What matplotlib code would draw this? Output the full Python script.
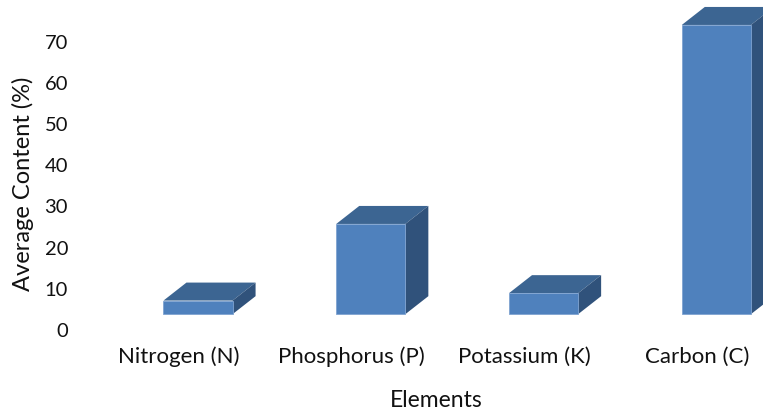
import matplotlib.pyplot as plt
import numpy as np

plt.rcParams['font.family'] = ['Lato', 'DejaVu Sans']

elements = ['Nitrogen (N)', 'Phosphorus (P)', 'Potassium (K)', 'Carbon (C)']
content = [6.9, 25.5, 8.7, 73.8]
yticks = [0, 10, 20, 30, 40, 50, 60, 70]

W, H = 763, 410
fig = plt.figure(figsize=(W / 100, H / 100), dpi=100)
# axes box in pixels (y measured from the bottom)
left_px, right_px, bottom_px, top_px = 75, 763, 80, 410
ax = fig.add_axes([left_px / W, bottom_px / H, (right_px - left_px) / W, (top_px - bottom_px) / H])
xlim = (-0.602, 3.380)
ylim = (0, 80.1)
ax.set_xlim(*xlim)
ax.set_ylim(*ylim)

front = '#4F81BD'
top_c = '#3C6592'
side_c = '#30527B'

# 3d look: depth offsets in pixels -> data units
depth_x_px, depth_y_px = 23, 18
ddx = depth_x_px * (xlim[1] - xlim[0]) / (right_px - left_px)
ddy = depth_y_px * (ylim[1] - ylim[0]) / (top_px - bottom_px)
floor = 3.6
w = 0.4
shift = 0.11  # bars sit a little right of their labels

x = np.arange(len(elements))
xb = x + shift
ax.bar(xb, np.array(content) - floor, bottom=floor, width=w, color=front,
       edgecolor='#7FA3D1', linewidth=0.6, zorder=3)
for xi, v in zip(xb, content):
    l, r = xi - w / 2, xi + w / 2
    ax.fill([l, r, r + ddx, l + ddx], [v, v, v + ddy, v + ddy], color=top_c, zorder=2, lw=0)
    ax.fill([r, r + ddx, r + ddx, r], [floor, floor + ddy, v + ddy, v], color=side_c, zorder=2, lw=0)

for s in ax.spines.values():
    s.set_visible(False)
ax.set_xticks(x)
ax.set_xticklabels(elements, fontsize=16, color='#111111')
ax.set_yticks(yticks)
ax.set_yticklabels([str(t) for t in yticks], fontsize=14.5, color='#111111')
ax.tick_params(length=0)
ax.tick_params(axis='x', pad=12)
ax.tick_params(axis='y', pad=5)

fig.text(436 / W, 3 / H, 'Elements', fontsize=16.5, ha='center', va='baseline', color='#111111')
fig.text(23 / W, (H - 184) / H, 'Average Content (%)', fontsize=17, rotation=90,
         ha='center', va='center', color='#111111')

fig.savefig('out.png', dpi=100)
